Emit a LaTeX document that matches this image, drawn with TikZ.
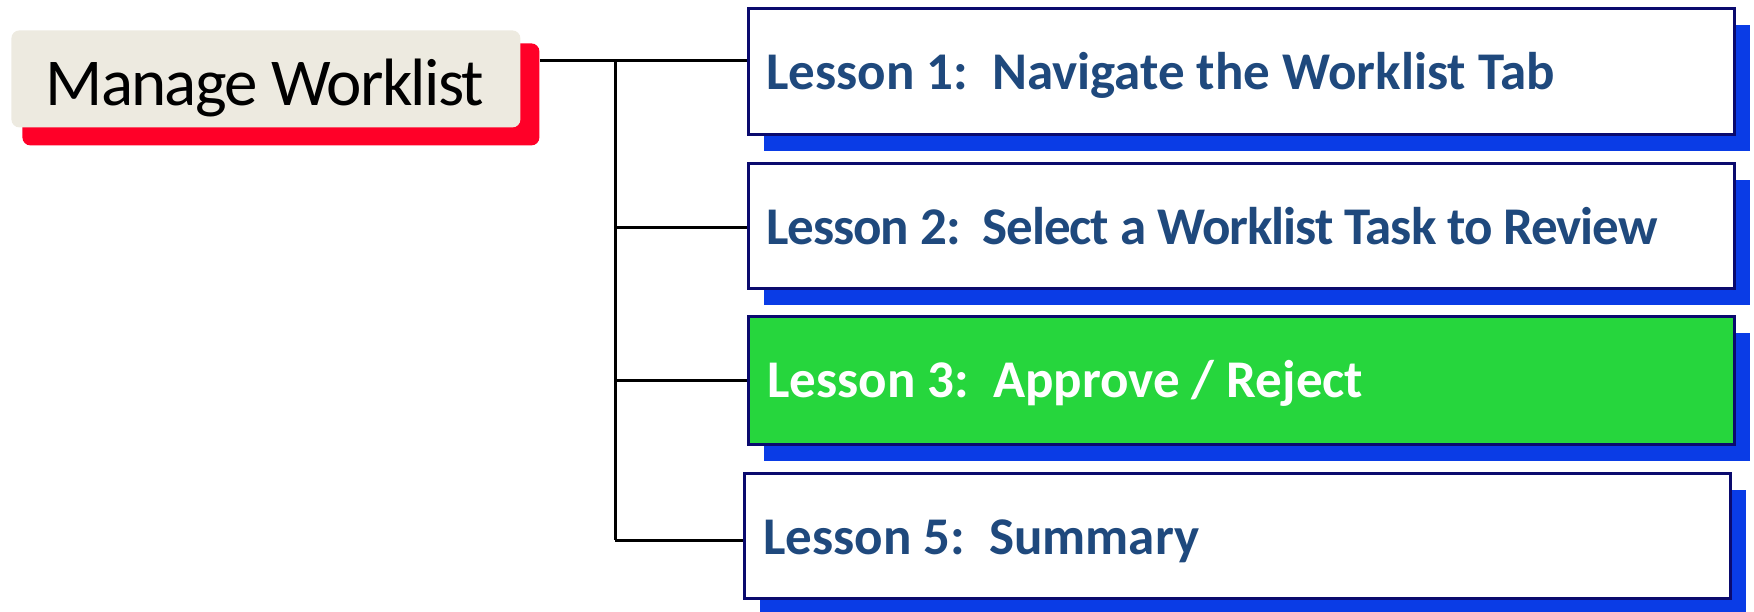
\documentclass[tikz,border=0pt]{standalone}
\usepackage{fontspec}
\setmainfont{Carlito}
\newfontfamily\lessonfont{Carlito}
\newfontfamily\lessontightfont[LetterSpace=-2]{Carlito}
\newfontfamily\mwfont[LetterSpace=-2.5]{Carlito}
\usetikzlibrary{shadows}
\definecolor{navy}{RGB}{10,10,110}
\definecolor{shadowblue}{RGB}{10,60,230}
\definecolor{lessongreen}{RGB}{38,214,61}
\definecolor{mwred}{RGB}{255,0,40}
\definecolor{mwbeige}{RGB}{237,234,224}
\definecolor{lessontext}{RGB}{31,73,125}
\tikzset{
  lessonbox/.style={draw=navy, line width=1.5pt, fill=white, anchor=north west, inner sep=0pt,
    minimum width=493pt, minimum height=63pt,
    drop shadow={shadow xshift=7.75pt, shadow yshift=-8pt, fill=shadowblue, opacity=1}},
  lessonlabel/.style={anchor=base west, inner sep=0pt, font=\lessonfont\fontsize{26.5}{30}\selectfont\bfseries, text=lessontext},
  conn/.style={line width=1.5pt, black},
}
\begin{document}
\begin{tikzpicture}[x=0.5pt, y=-0.5pt]
\useasboundingbox (0,0) rectangle (1754,611);
% Manage Worklist
\node[fill=mwred, rounded corners=4pt, anchor=north west, inner sep=0pt, minimum width=258.5pt, minimum height=51pt] (mwshadow) at (22,43) {};
\node[fill=mwbeige, rounded corners=4pt, anchor=north west, inner sep=0pt, minimum width=254.5pt, minimum height=48.5pt] (mw) at (11,30) {};
\node[anchor=base west, inner sep=0pt, font=\mwfont\fontsize{33.5}{38}\selectfont] (mwtext) at (45,105) {Manage Worklist};
% Lessons
\node[lessonbox] (l1) at (747,7) {};
\node[lessonbox, minimum height=62.5pt] (l2) at (747,162) {};
\node[lessonbox, fill=lessongreen, minimum height=64pt] (l3) at (747,315) {};
\node[lessonbox, minimum height=62.5pt] (l5) at (743,472) {};
\node[lessonlabel] (t1) at (766,89.5) {Lesson 1:\ \ Navigate the Worklist Tab};
\node[lessonlabel, font=\lessontightfont\fontsize{26.5}{30}\selectfont\bfseries] (t2) at (766,244.5) {Lesson 2:\ \ Select a Worklist Task to Review};
\node[lessonlabel, text=white] (t3) at (767,397.5) {Lesson 3:\ \ Approve / Reject};
\node[lessonlabel] (t5) at (763,554) {Lesson 5:\ \ Summary};
% connectors
\coordinate (j0) at (615,60);
\coordinate (b2) at (615,227);
\coordinate (b3) at (615,380);
\coordinate (b5) at (615,540);
\draw[conn] (mwshadow.east |- j0) -- (j0 -| l1.west);
\draw[conn] (j0) -- (b5);
\draw[conn] (b2) -- (b2 -| l2.west);
\draw[conn] (b3) -- (b3 -| l3.west);
\draw[conn] (b5) -- (b5 -| l5.west);
\end{tikzpicture}
\end{document}
